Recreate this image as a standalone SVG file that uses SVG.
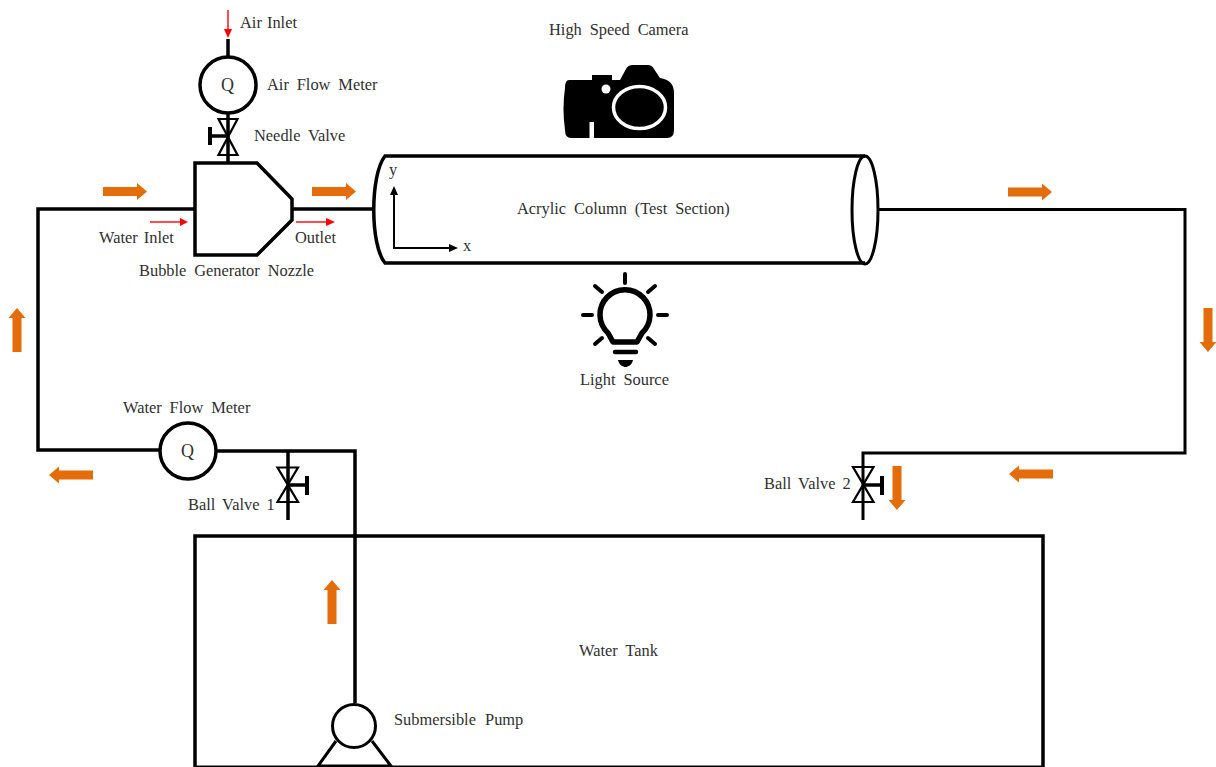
<svg xmlns="http://www.w3.org/2000/svg" width="1216" height="767" viewBox="0 0 1216 767">
<style>
text{font-family:"Liberation Serif","Times New Roman",serif;font-size:16.4px;fill:#303030;word-spacing:3.8px}
.q{font-size:18px}
.p{fill:none;stroke:#000;stroke-width:3.5}
.t{fill:none;stroke:#000;stroke-width:2.2}
.o{fill:#e46c0a}
.r{fill:none;stroke:#f00;stroke-width:1.4}
.rh{fill:#f00}
</style>
<defs>
<path id="oa" d="M-22,-4.500H12V-8.500L22,0L12,8.500V4.500H-22Z"/>
</defs>
<rect width="1216" height="767" fill="#fff"/>
<g id="connectors">
<path class="p" d="M195,209H38V450H160M216,451H355V703"/>
<path class="p" d="M292,209H374"/>
<path class="t" style="stroke-width:3" d="M878,209.500H1185V453H863V520"/>
<path class="p" d="M228,39V57M228,113V163"/>
<path class="p" d="M288,451V520"/>
</g>
<g id="flow-arrows" class="o">
<use href="#oa" transform="translate(125,191.500)"/>
<use href="#oa" transform="translate(334,191.500)"/>
<use href="#oa" transform="translate(1030,192)"/>
<use href="#oa" transform="translate(1031,474) rotate(180)"/>
<use href="#oa" transform="translate(71,475) rotate(180)"/>
<use href="#oa" transform="translate(17,330) rotate(-90)"/>
<use href="#oa" transform="translate(1208,330) rotate(90)"/>
<use href="#oa" transform="translate(897,488) rotate(90)"/>
<use href="#oa" transform="translate(332,602) rotate(-90)"/>
</g>
<g id="air-inlet">
<path class="r" d="M228,10V30"/><path class="rh" d="M224,29H232L228,38Z"/>
<text x="240" y="28" style="word-spacing:1px">Air Inlet</text>
</g>
<g id="air-flow-meter">
<circle class="p" cx="228" cy="85" r="28" fill="#fff"/>
<text class="q" x="227.500" y="90.500" text-anchor="middle">Q</text>
<text x="267" y="90">Air Flow Meter</text>
</g>
<g id="needle-valve">
<path class="t" d="M218.500,119H237.500L218.500,155H237.500Z"/>
<path class="p" d="M208,136H228"/>
<path d="M208,127H212V145H208Z"/>
<text x="254" y="141">Needle Valve</text>
</g>
<g id="bubble-generator-nozzle">
<path class="p" d="M195,163H257L292,199V220L257,255H195Z" fill="#fff"/>
<text x="139" y="276">Bubble Generator Nozzle</text>
</g>
<g id="water-inlet">
<path class="r" d="M150,222H181"/><path class="rh" d="M180,218V226L188,222Z"/>
<text x="99" y="243" style="word-spacing:2px">Water Inlet</text>
</g>
<g id="outlet">
<path class="r" d="M296,222H327"/><path class="rh" d="M326,218V226L335,222Z"/>
<text x="295" y="243">Outlet</text>
</g>
<g id="camera">
<text x="549" y="35">High Speed Camera</text>
<path d="M569,80H592V75H612V80H620L626,69Q628,65 633,65H648Q652,65 654,69L660,78Q674,80 674,93V130Q674,138 667,138H571Q565,138 565,130Q562,108 565,88Q565,80 569,80Z"/>
<ellipse cx="639.500" cy="107.500" rx="26" ry="21" fill="none" stroke="#fff" stroke-width="3.500"/>
<circle cx="606" cy="89" r="4.500" fill="#fff"/>
<rect x="589.500" y="122" width="4.500" height="16" fill="#fff"/>
</g>
<g id="acrylic-column">
<path class="p" d="M865,156H385C370,175 370,245 385,263H865"/>
<ellipse class="t" style="stroke-width:3" cx="865" cy="210" rx="13" ry="54" fill="#fff"/>
<text x="517" y="214">Acrylic Column (Test Section)</text>
</g>
<g id="axes">
<path fill="none" stroke="#000" stroke-width="2" d="M394,194V248H450"/>
<path d="M394,186L390,195H398ZM458,248L449,244V252Z"/>
<text x="389" y="175">y</text>
<text x="463" y="251">x</text>
</g>
<g id="light-source">
<path fill="none" stroke="#000" stroke-width="5.500" stroke-linejoin="round" d="M613,342L608,333A25,25 0 1 1 642,333L637,342Z"/>
<path fill="none" stroke="#000" stroke-width="4" stroke-linecap="round" d="M625,274V283M595,286L602,292M655,286L648,292M583,315H592M658,315H667M595,344L602,338M655,344L648,338"/>
<path fill="none" stroke="#000" stroke-width="4.500" stroke-linecap="round" d="M615,352H636"/>
<path d="M618,360H633C632,365 628,367 625.500,367C623,367 619,365 618,360Z"/>
<text x="580" y="385">Light Source</text>
</g>
<g id="water-flow-meter">
<circle class="p" cx="188" cy="451" r="28" fill="#fff"/>
<text class="q" x="187.500" y="456.500" text-anchor="middle">Q</text>
<text x="123" y="413">Water Flow Meter</text>
</g>
<g id="ball-valve-1">
<path class="t" d="M277.500,467.500H298L277.500,502H298Z"/>
<path class="p" d="M288,485H307"/>
<path d="M305,476H309V495H305Z"/>
<text x="188" y="510" style="word-spacing:3px">Ball Valve 1</text>
</g>
<g id="ball-valve-2">
<path class="t" d="M853,467H873.500L853,502H873.500Z"/>
<path class="p" d="M863,485H882"/>
<path d="M880,476H884V495H880Z"/>
<text x="764" y="489" style="word-spacing:3px">Ball Valve 2</text>
</g>
<g id="water-tank">
<path class="p" d="M195,767V536H1043V767"/>
<path fill="none" stroke="#000" stroke-width="2" d="M195,766.500H1043"/>
<text x="579" y="656">Water Tank</text>
</g>
<g id="submersible-pump">
<path class="t" style="stroke-width:3" d="M336,741L318,766H391L372,741"/>
<circle class="t" style="stroke-width:3" cx="354" cy="726" r="21.500" fill="#fff"/>
<text x="394" y="725" style="word-spacing:5px">Submersible Pump</text>
</g>
</svg>
